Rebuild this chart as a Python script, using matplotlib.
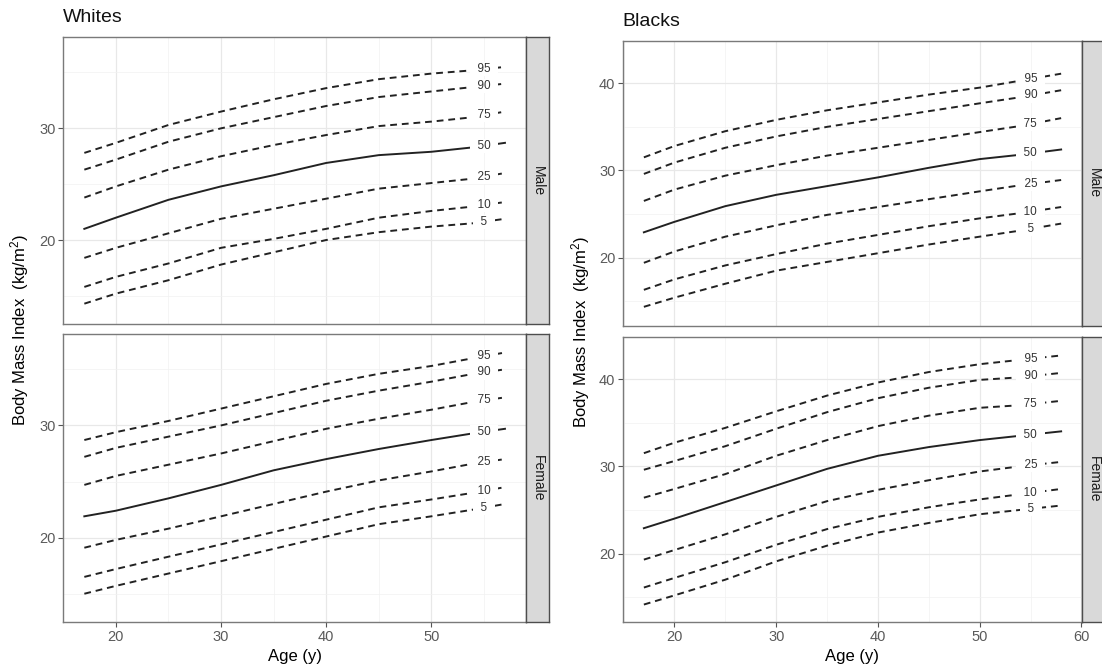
import matplotlib.pyplot as plt
import numpy as np

plt.rcParams["font.family"] = ["Liberation Sans", "DejaVu Sans"]
plt.rcParams["mathtext.fontset"] = "custom"
plt.rcParams["mathtext.rm"] = "Liberation Sans"
plt.rcParams["mathtext.it"] = "Liberation Sans"

PERCENTILES = [95, 90, 75, 50, 25, 10, 5]

# BMI percentile curves, rows follow PERCENTILES
WHITE_AGES = [17, 20, 25, 30, 35, 40, 45, 50, 54, 57]
WHITE_MALE = [
    [27.8, 28.7, 30.3, 31.5, 32.6, 33.6, 34.4, 34.9, 35.2, 35.5],
    [26.3, 27.2, 28.8, 30.0, 31.0, 32.0, 32.8, 33.3, 33.7, 34.0],
    [23.8, 24.8, 26.3, 27.5, 28.5, 29.4, 30.2, 30.6, 31.0, 31.5],
    [21.0, 22.0, 23.6, 24.8, 25.8, 26.9, 27.6, 27.9, 28.3, 28.7],
    [18.4, 19.3, 20.6, 21.9, 22.8, 23.7, 24.6, 25.1, 25.5, 26.0],
    [15.8, 16.7, 17.9, 19.3, 20.1, 21.0, 22.0, 22.6, 23.0, 23.4],
    [14.3, 15.2, 16.4, 17.8, 18.9, 20.0, 20.7, 21.2, 21.5, 21.9],
]
WHITE_FEMALE = [
    [28.7, 29.4, 30.4, 31.5, 32.6, 33.7, 34.6, 35.3, 36.0, 36.5],
    [27.2, 28.0, 29.0, 30.0, 31.1, 32.2, 33.1, 33.9, 34.6, 35.0],
    [24.7, 25.5, 26.5, 27.5, 28.6, 29.7, 30.6, 31.4, 32.1, 32.5],
    [21.9, 22.4, 23.5, 24.7, 26.0, 27.0, 27.9, 28.7, 29.3, 29.7],
    [19.1, 19.8, 20.8, 21.9, 23.0, 24.1, 25.1, 25.9, 26.6, 27.0],
    [16.5, 17.2, 18.3, 19.4, 20.5, 21.6, 22.7, 23.4, 24.0, 24.5],
    [15.0, 15.7, 16.8, 17.9, 19.0, 20.1, 21.2, 21.9, 22.5, 23.0],
]

BLACK_AGES = [17, 20, 25, 30, 35, 40, 45, 50, 54, 58]
BLACK_MALE = [
    [31.5, 32.8, 34.5, 35.8, 36.9, 37.8, 38.7, 39.5, 40.3, 41.1],
    [29.6, 30.9, 32.6, 33.9, 35.0, 35.9, 36.8, 37.7, 38.4, 39.2],
    [26.5, 27.8, 29.4, 30.6, 31.7, 32.6, 33.5, 34.4, 35.1, 36.0],
    [22.9, 24.1, 25.9, 27.2, 28.2, 29.2, 30.3, 31.3, 31.8, 32.4],
    [19.4, 20.7, 22.4, 23.7, 24.9, 25.8, 26.7, 27.6, 28.3, 28.9],
    [16.3, 17.5, 19.1, 20.4, 21.6, 22.6, 23.6, 24.5, 25.1, 25.8],
    [14.35, 15.4, 17.0, 18.5, 19.5, 20.5, 21.5, 22.4, 23.1, 23.9],
]
BLACK_FEMALE = [
    [31.5, 32.7, 34.4, 36.3, 38.1, 39.6, 40.8, 41.7, 42.2, 42.7],
    [29.6, 30.6, 32.3, 34.3, 36.2, 37.8, 39.0, 39.9, 40.2, 40.7],
    [26.4, 27.4, 29.1, 31.2, 33.0, 34.6, 35.8, 36.7, 37.0, 37.5],
    [22.9, 24.0, 25.9, 27.8, 29.7, 31.2, 32.2, 33.0, 33.5, 34.0],
    [19.3, 20.4, 22.2, 24.2, 26.0, 27.3, 28.4, 29.4, 30.0, 30.5],
    [16.1, 17.2, 19.0, 21.0, 22.8, 24.2, 25.3, 26.2, 26.8, 27.4],
    [14.15, 15.2, 17.0, 19.1, 20.9, 22.4, 23.5, 24.5, 25.0, 25.5],
]

LABEL_AGE = 55
W, H = 1102, 671


def rect(left, top, right, bottom):
    return [left / W, 1 - bottom / H, (right - left) / W, (bottom - top) / H]


def draw_panel(fig, box, ages, rows, xlim, ylim, yticks, facet, bottom):
    left, top, right, low = box
    ax = fig.add_axes(rect(left, top, right, low))
    ax.set_xticks([20, 30, 40, 50, 60])
    ax.set_xticks([15, 25, 35, 45, 55], minor=True)
    ax.set_yticks(yticks)
    ax.set_yticks([v + 5 for v in [10] + list(yticks)], minor=True)
    ax.set_xlim(*xlim)
    ax.set_ylim(*ylim)
    ax.grid(which="major", color="#E8E8E8", lw=0.9)
    ax.grid(which="minor", color="#F1F1F1", lw=0.5)
    ax.set_axisbelow(True)
    for s in ax.spines.values():
        s.set_color("#7a7a7a")
        s.set_linewidth(1.0)
    ax.tick_params(which="minor", length=0)
    ax.tick_params(which="major", length=3.5, width=0.8, color="#555555",
                   labelcolor="#5a5a5a", labelsize=10.5, pad=2)
    if not bottom:
        ax.tick_params(axis="x", which="major", length=0, labelbottom=False)

    for pct, vals in zip(PERCENTILES, rows):
        style = "-" if pct == 50 else (0, (3.5, 2.5))
        ax.plot(ages, vals, color="#222222", lw=1.4, ls=style, zorder=2)
        ax.text(LABEL_AGE, np.interp(LABEL_AGE, ages, vals), f"  {pct}  ",
                ha="center", va="center", fontsize=8.5, color="#333333",
                zorder=3, bbox=dict(boxstyle="square,pad=0.1", fc="white",
                                    ec="none"))

    strip = fig.add_axes(rect(right, top, right + 23, low))
    strip.set_facecolor("#D9D9D9")
    strip.set_xticks([])
    strip.set_yticks([])
    for s in strip.spines.values():
        s.set_color("#4d4d4d")
        s.set_linewidth(1.0)
    strip.text(0.5, 0.5, facet, rotation=270, ha="center", va="center",
               fontsize=10, color="#1a1a1a", transform=strip.transAxes)
    return ax


fig = plt.figure(figsize=(W / 100, H / 100), dpi=100)

# Whites
draw_panel(fig, (63.3, 37.3, 526, 324), WHITE_AGES, WHITE_MALE,
           (15, 59), (12.48, 38.15), [20, 30], "Male", False)
draw_panel(fig, (63.3, 334, 526, 622), WHITE_AGES, WHITE_FEMALE,
           (15, 59), (12.48, 38.15), [20, 30], "Female", True)
fig.text(63 / W, 1 - 17 / H, "Whites", fontsize=14, ha="left", va="center",
         color="#111111")
fig.text(20 / W, 1 - 330 / H, r"Body Mass Index  (kg/m$^2$)", rotation=90,
         fontsize=12, ha="center", va="center")
fig.text(295 / W, 1 - 657 / H, "Age (y)", fontsize=12, ha="center",
         va="center")

# Blacks
draw_panel(fig, (623, 41, 1082, 326), BLACK_AGES, BLACK_MALE,
           (14.95, 60.05), (12.15, 44.85), [20, 30, 40], "Male", False)
draw_panel(fig, (623, 336.7, 1082, 622), BLACK_AGES, BLACK_FEMALE,
           (14.95, 60.05), (12.15, 44.85), [20, 30, 40], "Female", True)
fig.text(622 / W, 1 - 21 / H, "Blacks", fontsize=14, ha="left", va="center",
         color="#111111")
fig.text(581 / W, 1 - 332 / H, r"Body Mass Index  (kg/m$^2$)", rotation=90,
         fontsize=12, ha="center", va="center")
fig.text(852 / W, 1 - 657 / H, "Age (y)", fontsize=12, ha="center",
         va="center")

fig.savefig("out.png", dpi=100)
